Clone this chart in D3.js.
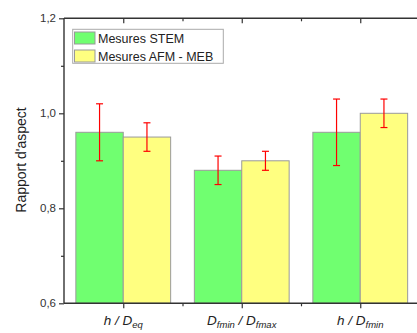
<!DOCTYPE html>
<html><head><meta charset="utf-8">
<script src="https://cdn.jsdelivr.net/npm/d3@7"></script>
<style>body{margin:0;background:#fff}svg{display:block;font-family:"Liberation Sans",Arial,sans-serif}</style>
</head><body><svg id="c" width="417" height="333"></svg>
<script>
const categories = ["hDeq","DfminDfmax","hDfmin"];
const seriesNames = ["Mesures STEM","Mesures AFM - MEB"];
const stemValues = [0.96, 0.88, 0.96];
const stemLow = [0.90, 0.85, 0.89];
const stemHigh = [1.02, 0.91, 1.03];
const afmValues = [0.95, 0.90, 1.00];
const afmLow = [0.92, 0.88, 0.97];
const afmHigh = [0.98, 0.92, 1.03];
const yTicks = [0.6, 0.8, 1.0, 1.2];
const yMinorTicks = [0.7, 0.9, 1.1];
const colors = ["#70ff70", "#ffff80"];

const svg = d3.select("#c");
const L = 64, R = 419.5, T = 18.3, B = 303.3;
const x = d3.scaleBand().domain(categories).range([L, R]).paddingInner(0.2).paddingOuter(0.1);
const xs = d3.scaleBand().domain([0,1]).range([0, x.bandwidth()]);
const y = d3.scaleLinear().domain([0.6, 1.2]).range([B, T]);

const series = [
  {vals: stemValues, lo: stemLow, hi: stemHigh},
  {vals: afmValues, lo: afmLow, hi: afmHigh}
];

// bars
series.forEach((s, si) => {
  svg.append("g").selectAll("rect").data(categories).join("rect")
    .attr("x", c => x(c) + xs(si))
    .attr("y", (c, i) => y(s.vals[i]))
    .attr("width", xs.bandwidth())
    .attr("height", (c, i) => y(0.6) - y(s.vals[i]))
    .attr("fill", colors[si])
    .attr("stroke", "#9a9a9a").attr("stroke-width", 1);
});
// error bars
series.forEach((s, si) => {
  const g = svg.append("g").attr("stroke", "#f00").attr("stroke-width", 1.2);
  categories.forEach((c, i) => {
    const cx = x(c) + xs(si) + xs.bandwidth() / 2;
    g.append("line").attr("x1", cx).attr("x2", cx).attr("y1", y(s.lo[i])).attr("y2", y(s.hi[i]));
    [s.lo[i], s.hi[i]].forEach(v => g.append("line").attr("x1", cx - 3.5).attr("x2", cx + 3.5).attr("y1", y(v)).attr("y2", y(v)));
  });
});

// axes
const axisColor = "#333";
const tickFmt = d => d3.format(".1f")(d).replace(".", ",");
const yAxis = svg.append("g").attr("transform", `translate(${L},0)`)
  .call(d3.axisLeft(y).tickValues(yTicks).tickFormat(tickFmt).tickSize(5).tickPadding(3));
svg.append("g").attr("transform", `translate(${L},0)`)
  .call(d3.axisLeft(y).tickValues(yMinorTicks).tickFormat("").tickSize(3));
// bottom
const catCenters = categories.map(c => x(c) + x.bandwidth() / 2);
const step = x.step();
const minorX = [catCenters[0] + step / 2, catCenters[1] + step / 2];
const xl = d3.scaleLinear().domain([L, R]).range([L, R]);
svg.append("g").attr("transform", `translate(0,${B})`)
  .call(d3.axisBottom(xl).tickValues(catCenters).tickFormat("").tickSize(5));
svg.append("g").attr("transform", `translate(0,${B})`)
  .call(d3.axisBottom(xl).tickValues(minorX).tickFormat("").tickSize(3));
// top
svg.append("g").attr("transform", `translate(0,${T})`)
  .call(d3.axisBottom(xl).tickValues(catCenters).tickFormat("").tickSize(5));
svg.append("g").attr("transform", `translate(0,${T})`)
  .call(d3.axisBottom(xl).tickValues(minorX).tickFormat("").tickSize(3));
svg.selectAll(".domain").remove();
svg.append("line").attr("x1", L).attr("x2", L).attr("y1", T).attr("y2", B);
svg.append("line").attr("x1", L).attr("x2", 417).attr("y1", T).attr("y2", T);
svg.append("line").attr("x1", L).attr("x2", 417).attr("y1", B).attr("y2", B);
svg.selectAll(".tick line").attr("stroke", axisColor).attr("stroke-width", 1.2);
svg.selectAll("line").filter(function(){return this.parentNode.tagName==="svg";}).attr("stroke", axisColor).attr("stroke-width", 1.4);
yAxis.selectAll("text").attr("font-size", 11.5).attr("fill", "#333").attr("font-family", "Liberation Sans, Arial, sans-serif");

// x labels with subscripts
const labelParts = [
  [["h / D", ""], ["eq", "sub"]],
  [["D", ""], ["fmin", "sub"], [" / D", ""], ["fmax", "sub"]],
  [["h / D", ""], ["fmin", "sub"]]
];
categories.forEach((c, i) => {
  const t = svg.append("text").attr("x", catCenters[i]).attr("y", 325).attr("text-anchor", "middle")
    .attr("font-size", 13.5).attr("font-style", "italic").attr("fill", "#222");
  labelParts[i].forEach(([s, k]) => {
    const ts = t.append("tspan").text(s);
    if (k === "sub") ts.attr("font-size", 9.5).attr("dy", 3);
    else ts.attr("dy", t.selectAll("tspan").size() > 1 ? -3 : 0);
  });
});

// y title
svg.append("text").attr("transform", "translate(26,160) rotate(-90)").attr("text-anchor", "middle")
  .attr("font-size", 14).attr("fill", "#222").text("Rapport d'aspect");

// legend
const lg = svg.append("g");
lg.append("rect").attr("x", 72.7).attr("y", 29.3).attr("width", 150.6).attr("height", 34)
  .attr("fill", "#fff").attr("stroke", "#aaa").attr("stroke-width", 1);
seriesNames.forEach((n, i) => {
  lg.append("rect").attr("x", 74.5).attr("y", 32 + i * 18).attr("width", 20.5).attr("height", 12)
    .attr("fill", colors[i]).attr("stroke", "#999");
  lg.append("text").attr("x", 98).attr("y", 43 + i * 18).attr("font-size", 12.5).attr("fill", "#222").text(n);
});
</script></body></html>
